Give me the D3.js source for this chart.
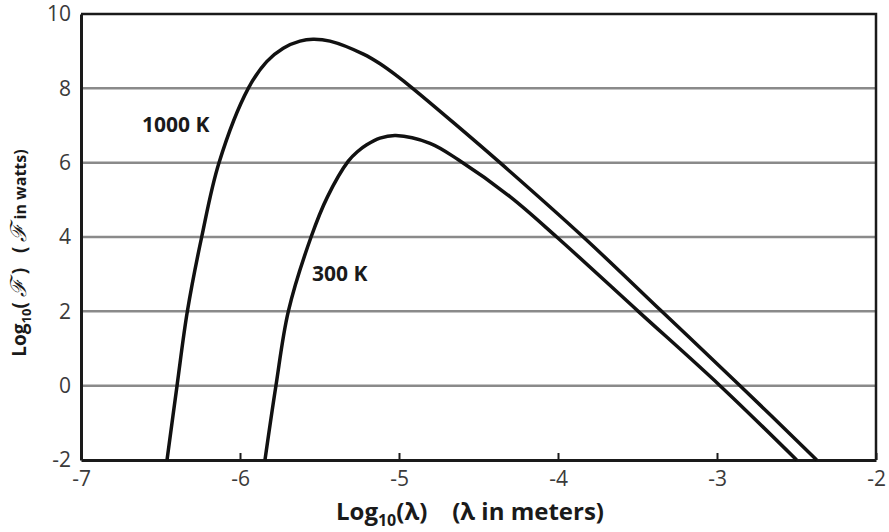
<!DOCTYPE html>
<html>
<head>
<meta charset="utf-8">
<script src="https://cdnjs.cloudflare.com/ajax/libs/d3/7.8.5/d3.min.js"></script>
<style>
  body { margin: 0; background: #fff; }
  svg { display: block; font-family: "Open Sans", sans-serif; }
</style>
</head>
<body>
<svg id="chart" width="889" height="532"></svg>
<script>
// log10(lambda) vs log10(F)
var lam1000 = [-6.459, -6.396, -6.331, -6.241, -6.132, -5.948, -5.832, -5.728, -5.623, -5.541, -5.434, -5.224, -5.119, -5.015, -4.92, -4.65, -4.365, -3.841, -3.348, -2.855, -2.373];
var flux1000 = [-2, 0, 2, 4, 6, 8, 8.72, 9.08, 9.27, 9.32, 9.27, 8.92, 8.66, 8.34, 8.02, 7.05, 6, 4, 2, 0, -2];

var lam300 = [-5.843, -5.774, -5.696, -5.553, -5.45, -5.319, -5.26, -5.203, -5.12, -5.02, -4.805, -4.627, -4.3, -4.008, -3.495, -2.981, -2.499];
var flux300 = [-2, 0, 2, 4, 5.08, 6.04, 6.3, 6.48, 6.66, 6.73, 6.52, 6.08, 5.08, 4, 2, 0, -2];

var xTicks = [-7, -6, -5, -4, -3, -2];
var yTicks = [-2, 0, 2, 4, 6, 8, 10];

var curveLabels = ["1000 K", "300 K"];

var svg = d3.select("#chart");
var margin = {left: 81, top: 14, right: 13, bottom: 72};
var W = 889, H = 532;

var x = d3.scaleLinear().domain([-7, -2]).range([margin.left, W - margin.right]);
var y = d3.scaleLinear().domain([-2, 10]).range([H - margin.bottom, margin.top]);

// grid
svg.append("g")
  .selectAll("line")
  .data(yTicks.slice(1, -1))
  .join("line")
  .attr("x1", x(-7)).attr("x2", x(-2))
  .attr("y1", d => y(d)).attr("y2", d => y(d))
  .attr("stroke", "#8a8a8a")
  .attr("stroke-width", 2.5);

// frame: top and right
svg.append("path")
  .attr("d", "M" + x(-7) + "," + y(10) + "H" + x(-2) + "V" + y(-2))
  .attr("fill", "none")
  .attr("stroke", "#1a1a1a")
  .attr("stroke-width", 2.5);

// axes
var xAxis = svg.append("g")
  .attr("transform", "translate(0," + y(-2) + ")")
  .call(d3.axisBottom(x).tickValues(xTicks).tickSizeInner(-7).tickSizeOuter(0).tickPadding(11));
xAxis.select(".domain").attr("stroke", "#1a1a1a").attr("stroke-width", 3);
xAxis.selectAll(".tick line").attr("stroke", "#1a1a1a").attr("stroke-width", 2);
xAxis.selectAll(".tick text")
  .attr("font-size", 21).attr("fill", "#3a3a3a").attr("font-family", "Open Sans, sans-serif")
  .text(d => String(d));

var yAxis = svg.append("g")
  .attr("transform", "translate(" + x(-7) + ",0)")
  .call(d3.axisLeft(y).tickValues(yTicks).tickSize(0).tickPadding(10));
yAxis.select(".domain").attr("stroke", "#1a1a1a").attr("stroke-width", 3);
yAxis.selectAll(".tick text")
  .attr("font-size", 21).attr("fill", "#3a3a3a").attr("font-family", "Open Sans, sans-serif")
  .text(d => String(d));

// curves
var line = d3.line()
  .x(d => x(d[0]))
  .y(d => y(d[1]))
  .curve(d3.curveCatmullRom.alpha(0.5));

var series = [d3.zip(lam1000, flux1000), d3.zip(lam300, flux300)];

svg.append("g")
  .selectAll("path")
  .data(series)
  .join("path")
  .attr("d", line)
  .attr("fill", "none")
  .attr("stroke", "#111")
  .attr("stroke-width", 3.5);

// curve labels
var labelPos = [[-6.616, 6.83], [-5.547, 2.82]];
svg.append("g")
  .selectAll("text")
  .data(curveLabels)
  .join("text")
  .attr("x", (d, i) => x(labelPos[i][0]))
  .attr("y", (d, i) => y(labelPos[i][1]))
  .attr("font-size", 21)
  .attr("font-weight", "bold")
  .attr("fill", "#1a1a1a")
  .text(d => d);

// x title
var xt = svg.append("text")
  .attr("x", 470)
  .attr("y", 520)
  .attr("text-anchor", "middle")
  .attr("font-size", 24)
  .attr("font-weight", "bold")
  .attr("fill", "#1a1a1a");
xt.append("tspan").text("Log");
xt.append("tspan").attr("font-size", 16).attr("dy", 6).text("10");
xt.append("tspan").attr("dy", -6).text("(λ)\u00a0\u00a0\u00a0\u00a0(λ in meters)");

// y title
var yt = svg.append("text")
  .attr("transform", "translate(26," + ((y(-2) + y(10)) / 2 + 16) + ") rotate(-90)")
  .attr("text-anchor", "middle")
  .attr("font-size", 19)
  .attr("font-weight", "bold")
  .attr("fill", "#1a1a1a");
yt.append("tspan").text("Log");
yt.append("tspan").attr("font-size", 13).attr("dy", 5).text("10");
yt.append("tspan").attr("dy", -5).text("(\u00a0");
yt.append("tspan").attr("font-family", "DejaVu Serif, serif").attr("font-style", "italic").attr("font-weight", "normal").attr("font-size", 22).text("ℱ");
yt.append("tspan").text("\u00a0)\u00a0\u00a0\u00a0(\u00a0");
yt.append("tspan").attr("font-family", "DejaVu Serif, serif").attr("font-style", "italic").attr("font-weight", "normal").attr("font-size", 22).text("ℱ");
yt.append("tspan").attr("font-size", 16).text("\u00a0in watts)");
</script>
</body>
</html>
